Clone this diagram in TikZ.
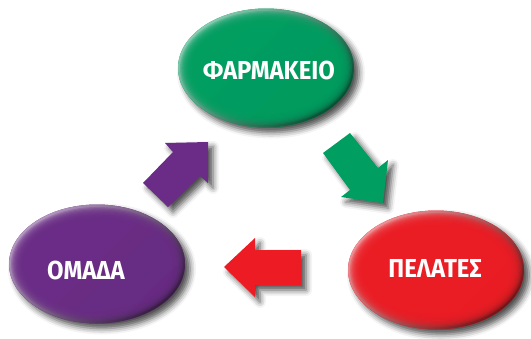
\documentclass[tikz,border=0pt]{standalone}
\usepackage{fontspec}
\newfontfamily\lblfont[FakeStretch=0.92]{Fira Sans}
\usetikzlibrary{shapes.geometric,shadows.blur}
\definecolor{grn}{HTML}{009E60}
\definecolor{red1}{HTML}{ED1C24}
\definecolor{purp}{HTML}{6A2C86}
\tikzset{
  shad/.style={blur shadow={shadow xshift=5pt, shadow yshift=-5pt, shadow blur radius=6pt, shadow opacity=70}},
  ball/.style={ellipse, minimum width=176pt, minimum height=119pt, inner sep=0pt, fill=#1, shad,
    path picture={
      \shade[top color=#1!45!white, bottom color=#1!45!black, shading angle=45]
        ([xshift=-10pt,yshift=10pt]path picture bounding box.north west) rectangle ([xshift=10pt,yshift=-10pt]path picture bounding box.south east);
      \foreach \k in {0,...,11}{
        \fill[#1, opacity=0.28] (path picture bounding box.center) ellipse [x radius={86pt-1.2pt*\k}, y radius={57pt-1.2pt*\k}];
      }
    }},
  lbl/.style={text=white, font=\lblfont\bfseries\fontsize{26}{26}\selectfont},
  blockarrow/.style={fill=#1, shad},
}
\begin{document}
\begin{tikzpicture}[x=1pt,y=-1pt]
\useasboundingbox (0,0) rectangle (531,338);
% block arrows
\fill[blockarrow=purp] (208,142) -- (208,183) -- (200,176) -- (168,207) -- (143,183) -- (173,152) -- (165,143) -- cycle;
\fill[blockarrow=grn] (383,203) -- (341,197) -- (350,190) -- (323,153) -- (350,133) -- (378,168) -- (388,160) -- cycle;
\fill[blockarrow=red1] (224,267) -- (255,238) -- (255,250) -- (301,250) -- (301,285) -- (255,285) -- (255,297) -- cycle;
% ellipses
\node[ball=grn] (farm) at (266,68) {};
\node[ball=purp] (omada) at (97,264) {};
\node[ball=red1] (pel) at (436,270) {};
\node[lbl] (tfarm) at (269,70) {ΦΑΡΜΑΚΕΙΟ};
\node[lbl] (tomada) at (86,270) {ΟΜΑΔΑ};
\node[lbl] (tpel) at (435,268) {ΠΕΛΑΤΕΣ};
\end{tikzpicture}
\end{document}
